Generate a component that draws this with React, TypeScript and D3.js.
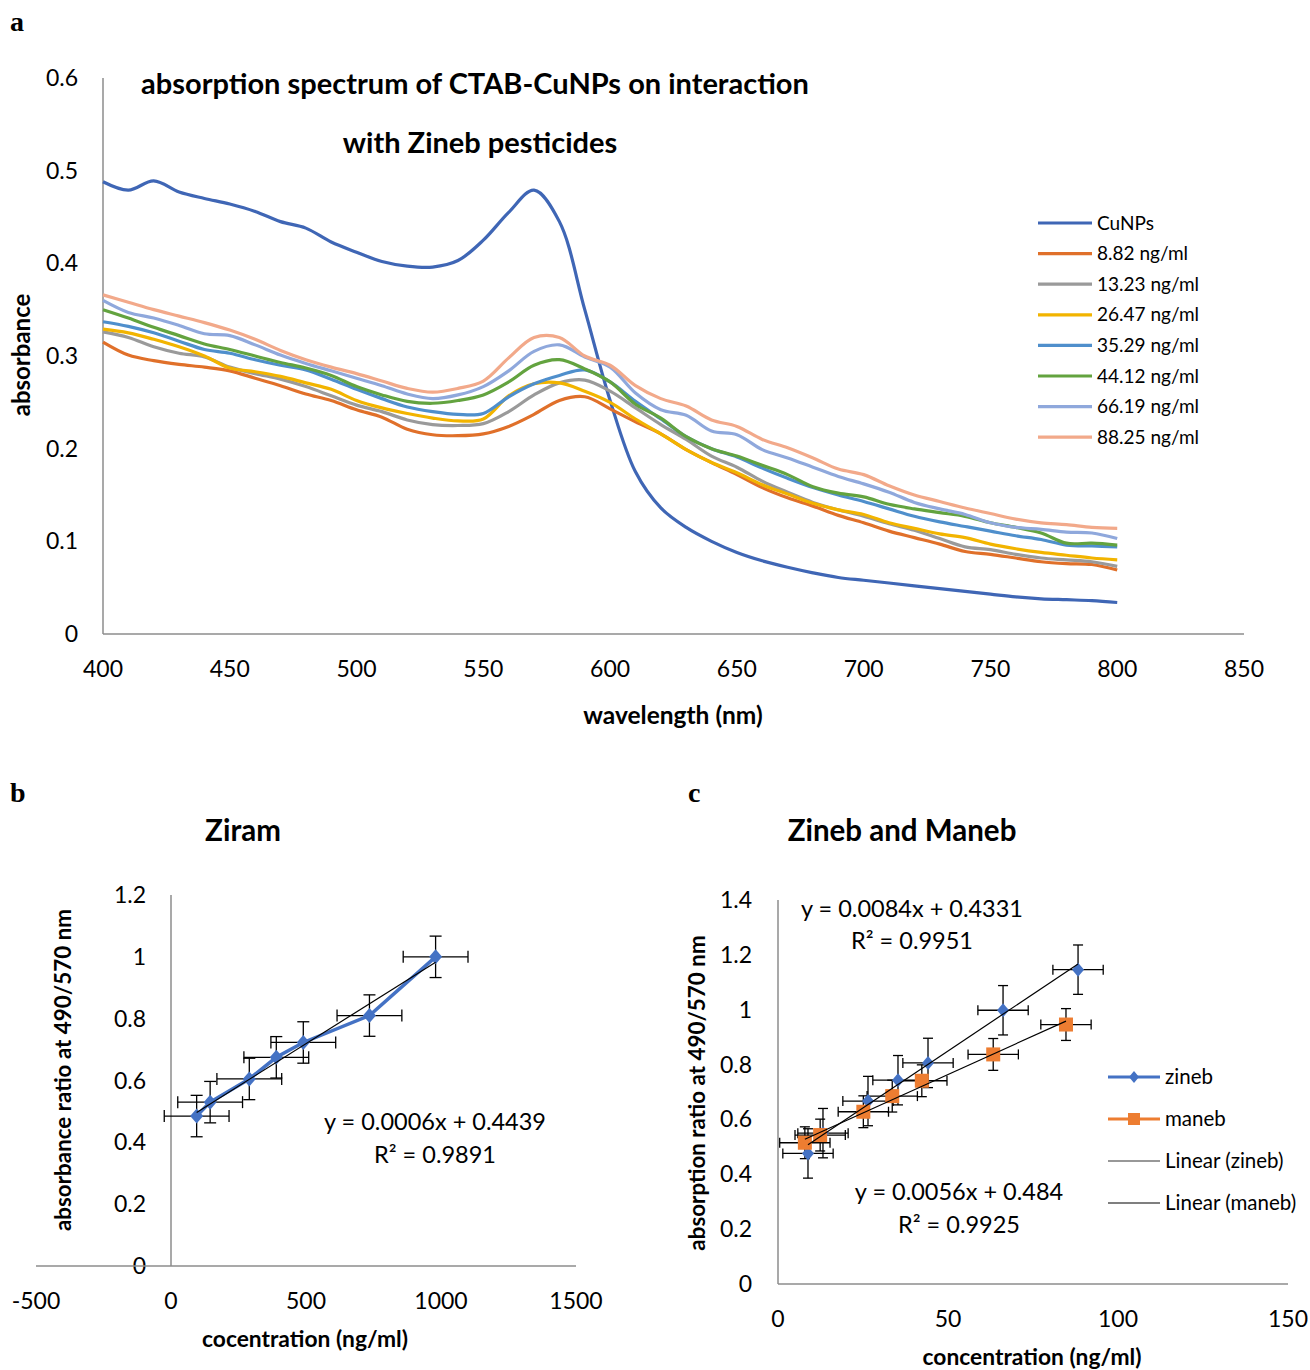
import React from 'react'
import * as d3 from 'd3'

// ---- panel a: absorption spectra (every 10 nm) ----
const wavelengths = d3.range(400, 801, 10)
const seriesNames = ['CuNPs', '8.82 ng/ml', '13.23 ng/ml', '26.47 ng/ml', '35.29 ng/ml', '44.12 ng/ml', '66.19 ng/ml', '88.25 ng/ml']
const seriesColors = ['#3F66B5', '#E0702A', '#9A9A9A', '#F2B400', '#4F8FCC', '#63A33F', '#8FA8DC', '#F2A98A']

const cuNPs = [0.488, 0.479, 0.489, 0.477, 0.470, 0.464, 0.456, 0.445, 0.438, 0.423, 0.412, 0.402, 0.397, 0.396, 0.403, 0.425, 0.455, 0.479, 0.445, 0.350, 0.252, 0.175, 0.136, 0.115, 0.100, 0.088, 0.079, 0.072, 0.066, 0.061, 0.058, 0.055, 0.052, 0.049, 0.046, 0.043, 0.040, 0.038, 0.037, 0.036, 0.034]
const c882 = [0.315, 0.301, 0.295, 0.291, 0.288, 0.284, 0.276, 0.268, 0.259, 0.252, 0.242, 0.234, 0.221, 0.215, 0.214, 0.216, 0.224, 0.237, 0.252, 0.256, 0.243, 0.229, 0.216, 0.199, 0.185, 0.172, 0.158, 0.147, 0.138, 0.128, 0.120, 0.111, 0.104, 0.097, 0.089, 0.086, 0.082, 0.078, 0.076, 0.075, 0.069]
const c1323 = [0.326, 0.320, 0.310, 0.303, 0.299, 0.288, 0.281, 0.275, 0.267, 0.257, 0.247, 0.240, 0.231, 0.226, 0.225, 0.227, 0.240, 0.258, 0.271, 0.274, 0.262, 0.244, 0.226, 0.210, 0.192, 0.180, 0.165, 0.153, 0.142, 0.134, 0.127, 0.119, 0.112, 0.103, 0.094, 0.091, 0.086, 0.082, 0.080, 0.078, 0.073]
const c2647 = [0.329, 0.325, 0.318, 0.310, 0.300, 0.287, 0.283, 0.278, 0.271, 0.264, 0.252, 0.244, 0.238, 0.233, 0.230, 0.232, 0.257, 0.270, 0.271, 0.262, 0.250, 0.232, 0.216, 0.199, 0.185, 0.174, 0.161, 0.151, 0.141, 0.134, 0.129, 0.120, 0.114, 0.108, 0.104, 0.097, 0.092, 0.088, 0.085, 0.082, 0.080]
const c3529 = [0.337, 0.332, 0.325, 0.316, 0.307, 0.303, 0.296, 0.290, 0.285, 0.275, 0.264, 0.254, 0.245, 0.240, 0.237, 0.238, 0.256, 0.270, 0.279, 0.285, 0.272, 0.251, 0.232, 0.213, 0.200, 0.191, 0.179, 0.168, 0.158, 0.150, 0.143, 0.135, 0.127, 0.121, 0.116, 0.111, 0.106, 0.102, 0.096, 0.095, 0.094]
const c4412 = [0.350, 0.341, 0.331, 0.322, 0.313, 0.307, 0.300, 0.293, 0.287, 0.279, 0.267, 0.258, 0.251, 0.249, 0.252, 0.258, 0.272, 0.290, 0.296, 0.286, 0.272, 0.248, 0.233, 0.213, 0.200, 0.192, 0.182, 0.172, 0.159, 0.152, 0.148, 0.140, 0.135, 0.131, 0.127, 0.120, 0.115, 0.109, 0.098, 0.098, 0.096]
const c6619 = [0.360, 0.347, 0.341, 0.333, 0.324, 0.322, 0.312, 0.301, 0.292, 0.284, 0.276, 0.268, 0.259, 0.254, 0.258, 0.267, 0.284, 0.305, 0.312, 0.299, 0.288, 0.260, 0.242, 0.236, 0.219, 0.215, 0.199, 0.190, 0.180, 0.170, 0.162, 0.153, 0.142, 0.135, 0.129, 0.120, 0.115, 0.113, 0.110, 0.109, 0.103]
const c8825 = [0.366, 0.358, 0.350, 0.343, 0.336, 0.328, 0.318, 0.306, 0.296, 0.288, 0.281, 0.273, 0.265, 0.261, 0.265, 0.273, 0.298, 0.320, 0.320, 0.300, 0.290, 0.268, 0.254, 0.246, 0.231, 0.224, 0.210, 0.201, 0.190, 0.178, 0.172, 0.160, 0.150, 0.143, 0.136, 0.130, 0.124, 0.120, 0.118, 0.115, 0.114]
const spectra = [cuNPs, c882, c1323, c2647, c3529, c4412, c6619, c8825]

const xTicksA = [400, 450, 500, 550, 600, 650, 700, 750, 800, 850]
const yTicksA = [0, 0.1, 0.2, 0.3, 0.4, 0.5, 0.6]

// ---- panel b: ziram ----
const ziramConc = [95, 145, 290, 390, 490, 735, 980]
const ziramRatio = [0.485, 0.53, 0.605, 0.675, 0.723, 0.81, 1.0]
const ziramErrX = 120
const ziramErrY = 0.067
const xTicksB = [-500, 0, 500, 1000, 1500]
const yTicksB = [0, 0.2, 0.4, 0.6, 0.8, 1, 1.2]

// ---- panel c: zineb and maneb ----
const zinebConc = [8.82, 13.23, 26.47, 35.29, 44.12, 66.19, 88.25]
const zinebRatio = [0.476, 0.55, 0.667, 0.743, 0.806, 0.998, 1.146]
const manebConc = [7.9, 12.4, 25.1, 33.6, 42.3, 63.3, 84.7]
const manebRatio = [0.515, 0.543, 0.628, 0.685, 0.741, 0.837, 0.946]
const zinebErr = [7.4, 0.09]
const manebErr = [7.4, 0.058]
const xTicksC = [0, 50, 100, 150]
const yTicksC = [0, 0.2, 0.4, 0.6, 0.8, 1, 1.2, 1.4]

const FONT = 'Lato, "Open Sans", sans-serif'
const AXIS = '#8c8c8c'
const TICK = 23

const fit = (xs: number[], ys: number[]) => {
  const mx = d3.mean(xs) as number
  const my = d3.mean(ys) as number
  let sxy = 0, sxx = 0
  xs.forEach((x, i) => { sxy += (x - mx) * (ys[i] - my); sxx += (x - mx) * (x - mx) })
  const slope = sxy / sxx
  return { slope, intercept: my - slope * mx }
}

const diamond = (cx: number, cy: number, w: number, h: number) =>
  `M${cx},${cy - h}L${cx + w},${cy}L${cx},${cy + h}L${cx - w},${cy}Z`

const ErrorBars = ({ xs, ys, ex, ey, sx, sy, cap }: any) => (
  <g stroke="#000" strokeWidth={1.3}>
    {xs.map((x: number, i: number) => {
      const px = sx(x), py = sy(ys[i])
      const x0 = sx(x - ex), x1 = sx(x + ex), y0 = sy(ys[i] - ey), y1 = sy(ys[i] + ey)
      return (
        <g key={i}>
          <line x1={x0} x2={x1} y1={py} y2={py} />
          <line x1={x0} x2={x0} y1={py - cap} y2={py + cap} />
          <line x1={x1} x2={x1} y1={py - cap} y2={py + cap} />
          <line x1={px} x2={px} y1={y0} y2={y1} />
          <line x1={px - cap} x2={px + cap} y1={y0} y2={y0} />
          <line x1={px - cap} x2={px + cap} y1={y1} y2={y1} />
        </g>
      )
    })}
  </g>
)

const PanelA = () => {
  const x = d3.scaleLinear().domain([400, 850]).range([103, 1244])
  const y = d3.scaleLinear().domain([0, 0.6]).range([634, 78])
  const line = d3.line<number>()
    .x((_, i) => x(wavelengths[i]))
    .y((d) => y(d))
    .curve(d3.curveCatmullRom.alpha(0.5))
  return (
    <g>
      <text x={10} y={31} fontFamily='"Liberation Serif", serif' fontWeight="bold" fontSize={28}>a</text>
      <line x1={x(400)} x2={x(400)} y1={y(0.6)} y2={y(0)} stroke={AXIS} strokeWidth={1.5} />
      <line x1={x(400)} x2={x(850)} y1={y(0)} y2={y(0)} stroke={AXIS} strokeWidth={1.5} />
      {yTicksA.map((t) => (
        <text key={t} x={78} y={y(t)} dy="0.35em" textAnchor="end" fontFamily={FONT} fontSize={TICK}>{t}</text>
      ))}
      {xTicksA.map((t) => (
        <text key={t} x={x(t)} y={669} dy="0.35em" textAnchor="middle" fontFamily={FONT} fontSize={TICK}>{t}</text>
      ))}
      {spectra.map((s, i) => (
        <path key={i} d={line(s) as string} fill="none" stroke={seriesColors[i]} strokeWidth={3.2} />
      ))}
      <text x={475} y={84} dy="0.35em" textAnchor="middle" fontFamily={FONT} fontWeight="bold" fontSize={29}>absorption spectrum of CTAB-CuNPs on interaction</text>
      <text x={480} y={143} dy="0.35em" textAnchor="middle" fontFamily={FONT} fontWeight="bold" fontSize={29}>with Zineb pesticides</text>
      <text transform="translate(22,355) rotate(-90)" dy="0.35em" textAnchor="middle" fontFamily={FONT} fontWeight="bold" fontSize={24}>absorbance</text>
      <text x={673} y={715} dy="0.35em" textAnchor="middle" fontFamily={FONT} fontWeight="bold" fontSize={24.5}>wavelength (nm)</text>
      {seriesNames.map((n, i) => (
        <g key={n} transform={`translate(1038,${223 + i * 30.6})`}>
          <line x1={0} x2={54} y1={0} y2={0} stroke={seriesColors[i]} strokeWidth={3.2} />
          <text x={59} y={0} dy="0.35em" fontFamily={FONT} fontSize={19}>{n}</text>
        </g>
      ))}
    </g>
  )
}

const PanelB = () => {
  const x = d3.scaleLinear().domain([-500, 1500]).range([36, 576])
  const y = d3.scaleLinear().domain([0, 1.2]).range([1266, 895])
  const line = d3.line<number>().x((d) => x(d)).y((_, i) => y(ziramRatio[i]))
  const f = fit(ziramConc, ziramRatio)
  const xmin = d3.min(ziramConc) as number, xmax = d3.max(ziramConc) as number
  return (
    <g>
      <text x={10} y={802} fontFamily='"Liberation Serif", serif' fontWeight="bold" fontSize={28}>b</text>
      <text x={243} y={831} dy="0.35em" textAnchor="middle" fontFamily={FONT} fontWeight="bold" fontSize={29.5}>Ziram</text>
      <line x1={x(0)} x2={x(0)} y1={y(1.2)} y2={y(0)} stroke={AXIS} strokeWidth={1.5} />
      {yTicksB.map((t) => (
        <text key={t} x={146} y={y(t)} dy="0.35em" textAnchor="end" fontFamily={FONT} fontSize={TICK}>{t}</text>
      ))}
      <line x1={x(-500)} x2={x(1500)} y1={y(0)} y2={y(0)} stroke={AXIS} strokeWidth={1.5} />
      {xTicksB.map((t) => (
        <text key={t} x={x(t)} y={1301} dy="0.35em" textAnchor="middle" fontFamily={FONT} fontSize={TICK}>{t}</text>
      ))}
      <ErrorBars xs={ziramConc} ys={ziramRatio} ex={ziramErrX} ey={ziramErrY} sx={x} sy={y} cap={6} />
      <path d={line(ziramConc) as string} fill="none" stroke="#4472C4" strokeWidth={3.5} />
      {ziramConc.map((c, i) => (
        <path key={i} d={diamond(x(c), y(ziramRatio[i]), 6.5, 7.5)} fill="#4472C4" />
      ))}
      <line x1={x(xmin)} x2={x(xmax)} y1={y(f.intercept + f.slope * xmin)} y2={y(f.intercept + f.slope * xmax)} stroke="#000" strokeWidth={1.2} />
      <text x={435} y={1122} dy="0.35em" textAnchor="middle" fontFamily={FONT} fontSize={23.5}>y = 0.0006x + 0.4439</text>
      <text x={435} y={1155} dy="0.35em" textAnchor="middle" fontFamily={FONT} fontSize={23.5}>R² = 0.9891</text>
      <text transform="translate(63,1070) rotate(-90)" dy="0.35em" textAnchor="middle" fontFamily={FONT} fontWeight="bold" fontSize={22.4}>absorbance ratio at 490/570 nm</text>
      <text x={305} y={1339} dy="0.35em" textAnchor="middle" fontFamily={FONT} fontWeight="bold" fontSize={22.8}>cocentration (ng/ml)</text>
    </g>
  )
}

const PanelC = () => {
  const x = d3.scaleLinear().domain([0, 150]).range([778, 1288])
  const y = d3.scaleLinear().domain([0, 1.4]).range([1284, 900])
  const fz = fit(zinebConc, zinebRatio)
  const fm = fit(manebConc, manebRatio)
  const trend = (xs: number[], f: any) => {
    const a = d3.min(xs) as number, b = d3.max(xs) as number
    return <line x1={x(a)} x2={x(b)} y1={y(f.intercept + f.slope * a)} y2={y(f.intercept + f.slope * b)} stroke="#000" strokeWidth={1.2} />
  }
  const legend = [
    { label: 'zineb', color: '#4472C4', w: 3, mark: 'd' },
    { label: 'maneb', color: '#ED7D31', w: 3, mark: 's' },
    { label: 'Linear (zineb)', color: '#333', w: 1.2, mark: '' },
    { label: 'Linear (maneb)', color: '#000', w: 1.2, mark: '' },
  ]
  return (
    <g>
      <text x={688} y={802} fontFamily='"Liberation Serif", serif' fontWeight="bold" fontSize={28}>c</text>
      <text x={902} y={831} dy="0.35em" textAnchor="middle" fontFamily={FONT} fontWeight="bold" fontSize={29.5}>Zineb and Maneb</text>
      <line x1={x(0)} x2={x(0)} y1={y(1.4)} y2={y(0)} stroke={AXIS} strokeWidth={1.5} />
      <line x1={x(0)} x2={x(150)} y1={y(0)} y2={y(0)} stroke={AXIS} strokeWidth={1.5} />
      {yTicksC.map((t) => (
        <text key={t} x={752} y={y(t)} dy="0.35em" textAnchor="end" fontFamily={FONT} fontSize={TICK}>{t}</text>
      ))}
      {xTicksC.map((t) => (
        <text key={t} x={x(t)} y={1319} dy="0.35em" textAnchor="middle" fontFamily={FONT} fontSize={TICK}>{t}</text>
      ))}
      <ErrorBars xs={zinebConc} ys={zinebRatio} ex={zinebErr[0]} ey={zinebErr[1]} sx={x} sy={y} cap={5} />
      <ErrorBars xs={manebConc} ys={manebRatio} ex={manebErr[0]} ey={manebErr[1]} sx={x} sy={y} cap={5} />
      {zinebConc.map((c, i) => (
        <path key={i} d={diamond(x(c), y(zinebRatio[i]), 6, 7)} fill="#4472C4" />
      ))}
      {manebConc.map((c, i) => (
        <rect key={i} x={x(c) - 7} y={y(manebRatio[i]) - 7} width={14} height={14} fill="#ED7D31" />
      ))}
      {trend(zinebConc, fz)}
      {trend(manebConc, fm)}
      <text x={912} y={909} dy="0.35em" textAnchor="middle" fontFamily={FONT} fontSize={23.5}>y = 0.0084x + 0.4331</text>
      <text x={912} y={941} dy="0.35em" textAnchor="middle" fontFamily={FONT} fontSize={23.5}>R² = 0.9951</text>
      <text x={959} y={1192} dy="0.35em" textAnchor="middle" fontFamily={FONT} fontSize={23.5}>y = 0.0056x + 0.484</text>
      <text x={959} y={1225} dy="0.35em" textAnchor="middle" fontFamily={FONT} fontSize={23.5}>R² = 0.9925</text>
      <text transform="translate(697,1093) rotate(-90)" dy="0.35em" textAnchor="middle" fontFamily={FONT} fontWeight="bold" fontSize={22.4}>absorption ratio at 490/570 nm</text>
      <text x={1032} y={1357} dy="0.35em" textAnchor="middle" fontFamily={FONT} fontWeight="bold" fontSize={22.8}>concentration (ng/ml)</text>
      {legend.map((l, i) => (
        <g key={l.label} transform={`translate(1108,${1077 + i * 42})`}>
          <line x1={0} x2={52} y1={0} y2={0} stroke={l.color} strokeWidth={l.w} />
          {l.mark === 'd' && <path d={diamond(26, 0, 5, 6)} fill={l.color} />}
          {l.mark === 's' && <rect x={20} y={-6} width={12} height={12} fill={l.color} />}
          <text x={57} y={0} dy="0.35em" fontFamily={FONT} fontSize={20.5}>{l.label}</text>
        </g>
      ))}
    </g>
  )
}

const App = () => (
  <svg width={1310} height={1370} style={{ position: 'absolute', left: 0, top: 0, background: '#fff' }}>
    <PanelA />
    <PanelB />
    <PanelC />
  </svg>
)

export default App
